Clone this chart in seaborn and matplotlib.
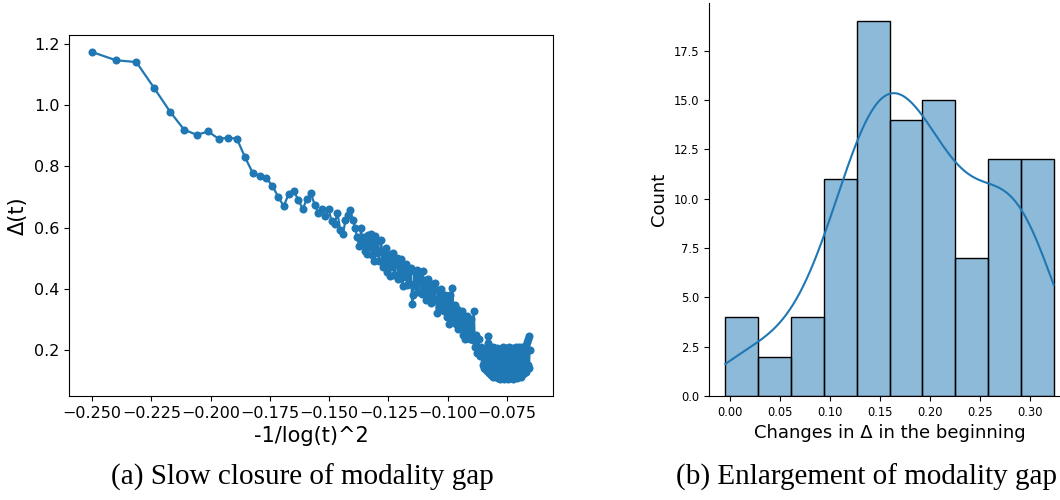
import matplotlib
matplotlib.use("Agg")
import matplotlib.pyplot as plt
import pandas as pd
import seaborn as sns

# ---------------- left panel: Delta(t) vs -1/log(t)^2 ----------------
early_x = [-0.25000, -0.23996, -0.23132, -0.22378, -0.21711, -0.21118, -0.20584, -0.20101,
           -0.19661, -0.19258, -0.18887, -0.18544, -0.18225, -0.17928, -0.17651, -0.17391,
           -0.17147, -0.16916, -0.16698, -0.16492, -0.16297, -0.16111, -0.15934, -0.15766,
           -0.15605, -0.15450, -0.15303, -0.15161, -0.15026, -0.14895, -0.14769, -0.14649,
           -0.14532, -0.14419, -0.14311, -0.14206, -0.14104, -0.14005, -0.13910, -0.13818,
           -0.13728]
early_y = [1.174, 1.147, 1.141, 1.056, 0.979, 0.920, 0.903, 0.914, 0.890, 0.894,
           0.890, 0.829, 0.779, 0.769, 0.762, 0.736, 0.700, 0.670, 0.711, 0.720,
           0.689, 0.661, 0.694, 0.712, 0.672, 0.648, 0.661, 0.639, 0.661, 0.620,
           0.612, 0.647, 0.592, 0.579, 0.623, 0.640, 0.656, 0.625, 0.599, 0.568,
           0.538]

mid_x = [-0.1365, -0.1360, -0.1355, -0.1350, -0.1345, -0.1340, -0.1335, -0.1330, -0.1325, -0.1320,
         -0.1315, -0.1310, -0.1305, -0.1300, -0.1295, -0.1290, -0.1285, -0.1280, -0.1275, -0.1270,
         -0.1265, -0.1260, -0.1255, -0.1250, -0.1245, -0.1240, -0.1235, -0.1230, -0.1225, -0.1220,
         -0.1215, -0.1210, -0.1205, -0.1200, -0.1195, -0.1190, -0.1185, -0.1180, -0.1175, -0.1170,
         -0.1165, -0.1160, -0.1155, -0.1150, -0.1145, -0.1140, -0.1135, -0.1130, -0.1125, -0.1120,
         -0.1115, -0.1110, -0.1105, -0.1100, -0.1095, -0.1090, -0.1085, -0.1080, -0.1075, -0.1070,
         -0.1065, -0.1060, -0.1055, -0.1050, -0.1045, -0.1040, -0.1035, -0.1030, -0.1025, -0.1020,
         -0.1015, -0.1010, -0.1005, -0.1000, -0.0995, -0.0990, -0.0985, -0.0980, -0.0975, -0.0970,
         -0.0965, -0.0960, -0.0955, -0.0950, -0.0945, -0.0940, -0.0935, -0.0930, -0.0925, -0.0920,
         -0.0915, -0.0910, -0.0905, -0.0900, -0.0895, -0.0890, -0.0885, -0.0880, -0.0875, -0.0870,
         -0.0865, -0.0860]
mid_y = [0.598, 0.545, 0.568, 0.524, 0.566, 0.513, 0.575, 0.537, 0.579, 0.511,
         0.557, 0.489, 0.572, 0.515, 0.556, 0.492, 0.523, 0.559, 0.470, 0.521,
         0.482, 0.533, 0.454, 0.500, 0.442, 0.514, 0.471, 0.518, 0.445, 0.492,
         0.499, 0.431, 0.478, 0.440, 0.497, 0.409, 0.471, 0.438, 0.480, 0.412,
         0.464, 0.416, 0.468, 0.350, 0.378, 0.456, 0.409, 0.462, 0.390, 0.428,
         0.451, 0.384, 0.457, 0.400, 0.427, 0.363, 0.430, 0.376, 0.403, 0.354,
         0.416, 0.362, 0.419, 0.365, 0.322, 0.394, 0.336, 0.398, 0.345, 0.377,
         0.328, 0.379, 0.307, 0.365, 0.286, 0.380, 0.303, 0.402, 0.305, 0.346,
         0.286, 0.332, 0.269, 0.320, 0.277, 0.328, 0.250, 0.301, 0.235, 0.309,
         0.249, 0.296, 0.234, 0.300, 0.232, 0.326, 0.210, 0.247, 0.189, 0.235,
         0.180, 0.210]

late_x = [-0.0855, -0.0853, -0.0851, -0.0849, -0.0847, -0.0845, -0.0843, -0.0841, -0.0839, -0.0837,
          -0.0835, -0.0833, -0.0831, -0.0829, -0.0827, -0.0825, -0.0823, -0.0821, -0.0819, -0.0817,
          -0.0815, -0.0813, -0.0811, -0.0809, -0.0807, -0.0805, -0.0803, -0.0801, -0.0799, -0.0797,
          -0.0795, -0.0793, -0.0791, -0.0789, -0.0787, -0.0785, -0.0783, -0.0781, -0.0779, -0.0777,
          -0.0775, -0.0773, -0.0771, -0.0769, -0.0767, -0.0765, -0.0763, -0.0761, -0.0759, -0.0757,
          -0.0755, -0.0753, -0.0751, -0.0749, -0.0747, -0.0745, -0.0743, -0.0741, -0.0739, -0.0737,
          -0.0735, -0.0733, -0.0731, -0.0729, -0.0727, -0.0725, -0.0723, -0.0721, -0.0719, -0.0717,
          -0.0715, -0.0713, -0.0711, -0.0709, -0.0707, -0.0705, -0.0703, -0.0701, -0.0699, -0.0697,
          -0.0695, -0.0693, -0.0691, -0.0689, -0.0687, -0.0685, -0.0683, -0.0681, -0.0679, -0.0677,
          -0.0675, -0.0673, -0.0671, -0.0669, -0.0667, -0.0665, -0.0663, -0.0661, -0.0659, -0.0657,
          -0.0655]
late_y = [0.185, 0.150, 0.200, 0.160, 0.142, 0.195, 0.170, 0.138, 0.205, 0.155,
          0.130, 0.180, 0.244, 0.222, 0.150, 0.125, 0.195, 0.140, 0.205, 0.118,
          0.170, 0.135, 0.208, 0.150, 0.112, 0.190, 0.128, 0.200, 0.160, 0.110,
          0.185, 0.140, 0.206, 0.108, 0.165, 0.198, 0.120, 0.175, 0.105, 0.200,
          0.145, 0.110, 0.190, 0.160, 0.208, 0.118, 0.175, 0.106, 0.195, 0.135,
          0.205, 0.112, 0.168, 0.190, 0.104, 0.150, 0.210, 0.125, 0.180, 0.108,
          0.198, 0.140, 0.115, 0.206, 0.160, 0.105, 0.185, 0.130, 0.200, 0.110,
          0.175, 0.208, 0.120, 0.155, 0.107, 0.195, 0.145, 0.210, 0.115, 0.170,
          0.130, 0.205, 0.112, 0.188, 0.150, 0.210, 0.120, 0.175, 0.200, 0.125,
          0.190, 0.140, 0.215, 0.128, 0.225, 0.145, 0.235, 0.150, 0.245, 0.140,
          0.200]

# ---------------- right panel: changes in Delta in the beginning ----------------
changes = [-0.0047, 0.010, 0.018, 0.025,
           0.045, 0.057,
           0.066, 0.074, 0.082, 0.089,
           0.096, 0.100, 0.104, 0.107, 0.110, 0.113, 0.116, 0.119, 0.121, 0.123, 0.125,
           0.129, 0.132, 0.134, 0.136, 0.138, 0.140, 0.142, 0.144, 0.145, 0.147,
           0.149, 0.150, 0.152, 0.153, 0.154, 0.155, 0.156, 0.157, 0.158,
           0.161, 0.163, 0.166, 0.168, 0.170, 0.172, 0.175, 0.177, 0.180, 0.182,
           0.185, 0.187, 0.189, 0.191,
           0.194, 0.196, 0.198, 0.200, 0.202, 0.204, 0.206, 0.208, 0.210, 0.212,
           0.214, 0.216, 0.218, 0.220, 0.223,
           0.230, 0.236, 0.241, 0.246, 0.250, 0.254, 0.257,
           0.260, 0.262, 0.264, 0.266, 0.268, 0.270, 0.273, 0.276, 0.279, 0.282,
           0.285, 0.289,
           0.292, 0.294, 0.296, 0.298, 0.300, 0.302, 0.305, 0.308, 0.311, 0.315,
           0.319, 0.324]

caption_a = "(a) Slow closure of modality gap"
caption_b = "(b) Enlargement of modality gap"

# ---------------- figure ----------------
plt.rcParams["font.family"] = ["DejaVu Sans"]
fig = plt.figure(figsize=(10.6, 5.0), dpi=100)
ax1 = fig.add_axes([0.0651, 0.208, 0.4566, 0.722])
ax2 = fig.add_axes([0.6689, 0.208, 0.3406, 0.787])

df = pd.DataFrame({"x": early_x + mid_x + late_x, "y": early_y + mid_y + late_y})
sns.lineplot(data=df, x="x", y="y", ax=ax1, color="#1f77b4", linewidth=1.6,
             marker="o", markersize=5.8, markeredgewidth=0, estimator=None, sort=False)
ax1.set_xlim(-0.2597, -0.0556)
ax1.set_ylim(0.049, 1.2295)
ax1.set_xticks([-0.250, -0.225, -0.200, -0.175, -0.150, -0.125, -0.100, -0.075])
ax1.set_yticks([0.2, 0.4, 0.6, 0.8, 1.0, 1.2])
ax1.set_xlabel("-1/log(t)^2", fontsize=15)
ax1.set_ylabel("Δ(t)", fontsize=15)
ax1.tick_params(labelsize=11.5)

sns.histplot(x=changes, bins=10, kde=True, ax=ax2, color="#1f77b4",
             kde_kws={"bw_adjust": 1.1}, line_kws={"linewidth": 1.5})
ax2.set_ylim(0, 19.95)
ax2.spines["top"].set_visible(False)
ax2.set_xlabel("Changes in Δ in the beginning", fontsize=13)
ax2.set_ylabel("Count", fontsize=13)
ax2.tick_params(labelsize=8.3)

fig.text(0.285, 0.046, caption_a, ha="center", va="center",
         family="Liberation Serif", fontsize=21)
fig.text(0.817, 0.046, caption_b, ha="center", va="center",
         family="Liberation Serif", fontsize=21)

fig.savefig("out.png", dpi=100)
